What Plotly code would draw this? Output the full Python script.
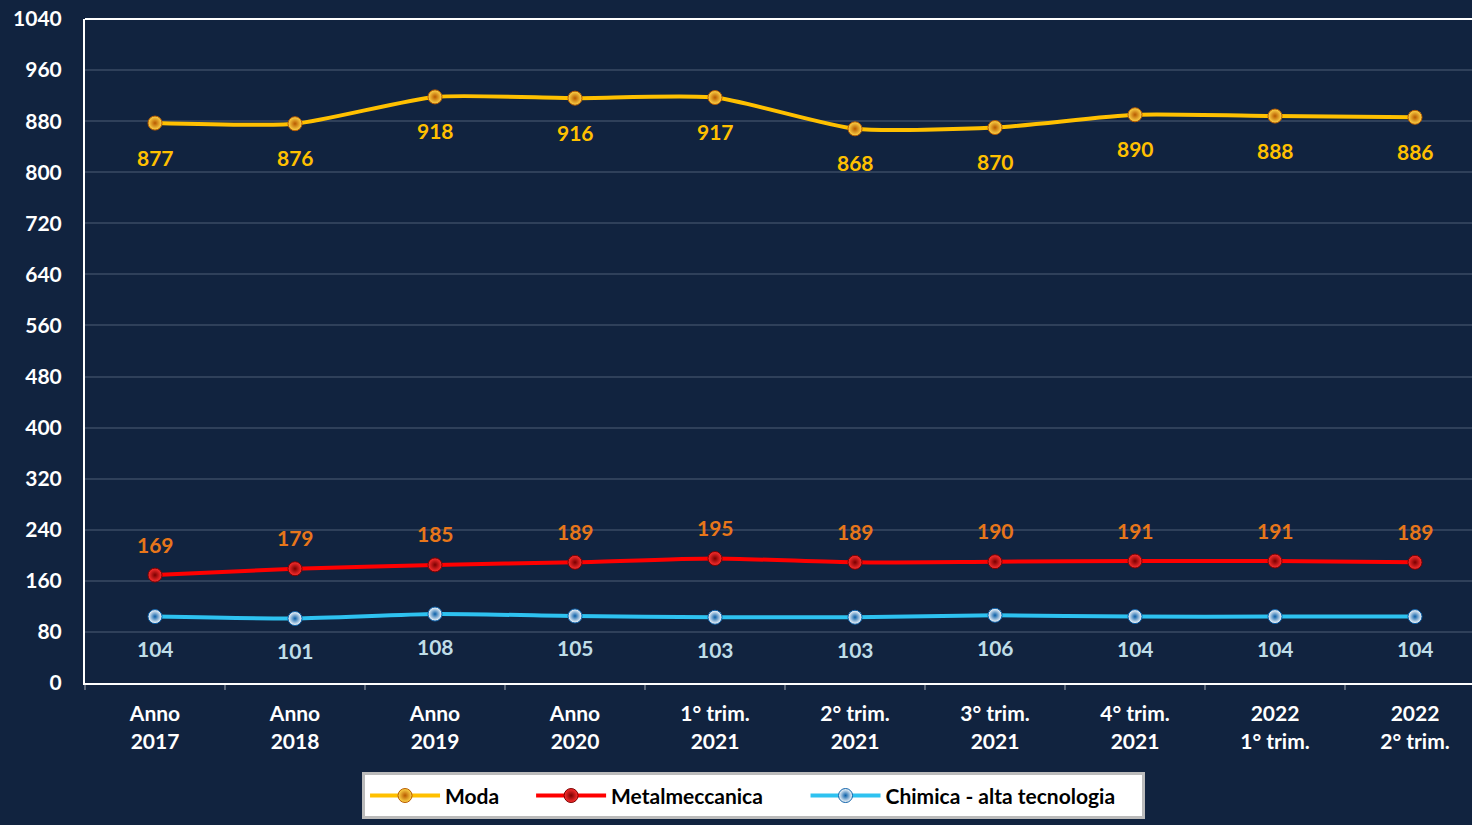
import plotly.graph_objects as go

categories = ["Anno<br>2017", "Anno<br>2018", "Anno<br>2019", "Anno<br>2020",
              "1° trim.<br>2021", "2° trim.<br>2021", "3° trim.<br>2021",
              "4° trim.<br>2021", "2022<br>1° trim.", "2022<br>2° trim."]
moda = [877, 876, 918, 916, 917, 868, 870, 890, 888, 886]
metalmeccanica = [169, 179, 185, 189, 195, 189, 190, 191, 191, 189]
chimica = [104, 101, 108, 105, 103, 103, 106, 104, 104, 104]
y_ticks = list(range(0, 1041, 80))

BG = "#11233F"
FONT = "Lato, Open Sans, sans-serif"
NB = "\u00a0"

series = [
    ("Moda", moda, "#FFC000", "#FFD84A", "#B85A00", "#FFC000", -34, 5),
    ("Metalmeccanica", metalmeccanica, "#FF0000", "#FF3030", "#7A0000", "#E8761A", 31, 7),
    ("Chimica - alta tecnologia", chimica, "#2EC2F0", "#FFFFFF", "#0A5FA8", "#BFDDE8", -32, 4),
]

fig = go.Figure()
for name, vals, lc, mc, gc, tc, shift, pad in series:
    fig.add_trace(go.Scatter(
        x=categories, y=vals, name=f"<b>{name}</b>" + NB * pad, mode="lines+markers",
        line=dict(color=lc, width=4, shape="spline", smoothing=0.6),
        marker=dict(size=14, color=mc, line=dict(color=gc, width=1),
                    gradient=dict(type="radial", color=gc)),
    ))
    for c, v in zip(categories, vals):
        fig.add_annotation(x=c, y=v, text=f"<b>{v}</b>", showarrow=False,
                           yshift=shift, font=dict(family=FONT, size=21, color=tc))

fig.update_layout(
    width=1472, height=825,
    paper_bgcolor=BG, plot_bgcolor=BG,
    margin=dict(l=85, r=0, t=19, b=142),
    font=dict(family=FONT, color="white"),
    showlegend=True,
    legend=dict(orientation="h", x=0.482, xanchor="center", y=-0.170, yanchor="middle",
                bgcolor="white", bordercolor="#BBBBBB", borderwidth=3,
                font=dict(family=FONT, size=21, color="black"),
                itemwidth=70, tracegroupgap=10),
)
fig.update_xaxes(
    type="category", range=[-0.5, 9.5 - 13 / 140],
    tickmode="array", tickvals=categories, ticktext=[f"<b>{c}</b>" for c in categories],
    tickfont=dict(family=FONT, size=21, color="white"),
    showgrid=False, showline=True, linecolor="white", linewidth=2, mirror=False,
    ticks="outside", tickson="boundaries", ticklen=5, tickcolor="#5A6678", tickwidth=2,
    ticklabelstandoff=11, zeroline=False,
)
fig.update_yaxes(
    range=[0, 1040], tickmode="array", tickvals=y_ticks, ticktext=[f"<b>{t}</b>" for t in y_ticks],
    tickfont=dict(family=FONT, size=21, color="white"),
    showgrid=True, gridcolor="#2F405A", gridwidth=2,
    showline=True, linecolor="white", linewidth=2, ticks="", ticklabelstandoff=17,
    zeroline=False,
)
fig.add_shape(type="line", xref="paper", yref="paper", x0=0, x1=1, y0=1, y1=1,
              line=dict(color="white", width=2))
fig.write_html("out.html", config={"displayModeBar": False},
               post_script="document.body.style.margin='0';document.body.style.background='" + BG + "';")
